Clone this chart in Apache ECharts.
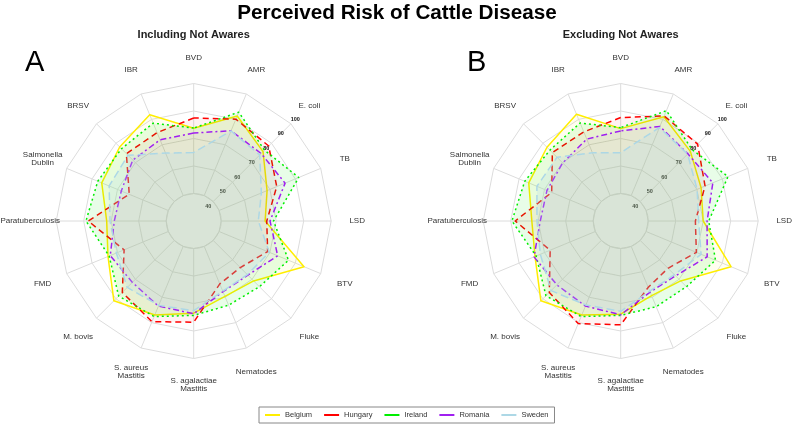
<!DOCTYPE html>
<html>
<head>
<meta charset="utf-8">
<script src="https://cdn.jsdelivr.net/npm/echarts@6/dist/echarts.min.js"></script>
<style>
  html, body { margin: 0; padding: 0; background: #fff; }
  #chart { width: 794px; height: 424px; }
</style>
</head>
<body>
<div id="chart"></div>
<script>
// categories, clockwise from the top
const diseases = ['BVD', 'AMR', 'E. coli', 'TB', 'LSD', 'BTV', 'Fluke', 'Nematodes',
  'S. agalactiae\nMastitis', 'S. aureus\nMastitis', 'M. bovis', 'FMD', 'Paratuberculosis',
  'Salmonella\nDublin', 'BRSV', 'IBR']

const countries = ['Belgium', 'Hungary', 'Ireland', 'Romania', 'Sweden']

// A: including not awares
const inclBelgium = [75.2, 85.4, 77.8, 68.7, 64.8, 88.2, 71.3, 69.8, 74.9, 79.6, 85.0, 75.2, 72.4, 78.5, 81.0, 86.0]
const inclHungary = [80.2, 83.7, 81.7, 73.8, 65.6, 69.0, 62.1, 63.2, 79.3, 83.1, 79.2, 66.7, 81.4, 64.0, 76.4, 76.6]
const inclIreland = [75.3, 87.4, 78.8, 85.4, 68.9, 80.0, 75.3, 74.4, 76.0, 80.4, 81.7, 74.6, 82.5, 80.6, 79.8, 81.6]
const inclRomania = [72.9, 77.6, 76.5, 78.2, 67.2, 74.3, 67.3, 67.3, 75.2, 74.9, 72.3, 74.0, 68.7, 68.2, 72.0, 72.8]
const inclSweden = [63.4, 77.5, 75.5, 65.7, 61.5, 69.9, 67.0, 67.0, 73.7, 74.5, 75.8, 70.8, 70.8, 74.6, 75.3, 65.8]

// B: excluding not awares
const exclBelgium = [75.0, 85.0, 78.0, 72.4, 70.2, 88.2, 71.3, 69.4, 75.4, 79.6, 85.0, 75.2, 73.3, 78.5, 80.8, 86.3]
const exclHungary = [80.4, 85.4, 83.0, 74.5, 66.4, 69.9, 62.6, 65.0, 80.6, 84.1, 79.2, 67.2, 81.4, 66.4, 77.1, 77.0]
const exclIreland = [75.5, 88.2, 79.2, 86.6, 72.9, 80.0, 75.3, 75.2, 76.0, 80.4, 81.5, 74.6, 83.0, 80.6, 78.8, 81.7]
const exclRomania = [73.9, 79.9, 76.3, 78.6, 72.1, 75.6, 67.8, 67.5, 75.7, 74.9, 74.0, 75.7, 69.2, 68.9, 70.0, 73.2]
const exclSweden = [63.3, 79.3, 76.1, 70.3, 68.0, 72.4, 67.0, 67.0, 74.0, 74.3, 78.0, 72.4, 70.8, 74.2, 73.9, 66.0]

const tickLabels = [40, 50, 60, 70, 80, 90, 100]

const scaleMin = 30
const ringMax = 97
const labelMax = 100

const font = 'Liberation Sans, Arial, sans-serif'
const radius = 137.5
const innerRadius = 27.5
const centers = [[193.7, 221], [620.7, 221]]
const gridColor = '#dcdcdc'

const colors = ['#ffee00', '#ff0000', '#00ee00', '#a020f0', '#add8e6']
const dashes = ['solid', [6, 4], [2, 3], [6, 3, 2, 3], [8, 4]]
const fillAlpha = [0.06, 0.05, 0.09, 0.04, 0.22]

// echarts draws radar axes counter-clockwise, so keep the first and reverse the rest
function ccw (arr) {
  return [arr[0]].concat(arr.slice(1).reverse())
}

function radarFor (center) {
  return {
    center: center,
    radius: radius,
    startAngle: 90,
    splitNumber: 5,
    shape: 'polygon',
    nameGap: 26,
    axisName: {
      color: '#333',
      fontSize: 8,
      fontFamily: font,
      align: 'center',
      verticalAlign: 'middle'
    },
    splitArea: { show: false },
    splitLine: { lineStyle: { color: gridColor, width: 1 } },
    // spokes come from the polar grid below so they start at the inner ring
    axisLine: { show: false },
    indicator: ccw(diseases).map(name => ({ name: name, min: scaleMin, max: ringMax }))
  }
}

function seriesFor (radarIndex, sets) {
  return {
    type: 'radar',
    radarIndex: radarIndex,
    symbol: 'none',
    data: sets.map((values, i) => ({
      name: countries[i],
      value: ccw(values),
      itemStyle: { color: colors[i] },
      lineStyle: { color: colors[i], width: 1.5, type: dashes[i] },
      areaStyle: { color: colors[i], opacity: fillAlpha[i] }
    }))
  }
}

// polar 0/1: spokes + inner circle, polar 2/3: 40..100 labels along the E. coli spoke
const polars = centers.map(c => ({ center: c, radius: [innerRadius, radius] }))
  .concat(centers.map(c => ({ center: c, radius: radius * (labelMax - scaleMin) / (ringMax - scaleMin) })))

const spokeAngle = centers.map((c, i) => ({
  polarIndex: i,
  type: 'value',
  startAngle: 90,
  min: 0,
  max: 360,
  interval: 360 / diseases.length,
  axisLine: { show: false },
  axisTick: { show: false },
  axisLabel: { show: false },
  splitLine: { lineStyle: { color: gridColor, width: 1 } }
}))

const spokeRadius = centers.map((c, i) => ({
  polarIndex: i,
  min: 0,
  max: 1,
  interval: 1,
  axisLine: { show: false },
  axisTick: { show: false },
  axisLabel: { show: false },
  // only the inner circle, the outer one is the polygon of the radar
  splitLine: { lineStyle: { color: [gridColor, 'rgba(0,0,0,0)'], width: 1 } }
}))

const labelAngle = centers.map((c, i) => ({
  polarIndex: i + 2,
  startAngle: 45,
  show: false,
  min: 0,
  max: 360
}))

const labelRadius = centers.map((c, i) => ({
  polarIndex: i + 2,
  min: scaleMin,
  max: labelMax,
  interval: 10,
  axisLine: { show: false },
  axisTick: { show: false },
  splitLine: { show: false },
  axisLabel: {
    margin: 0,
    align: 'center',
    verticalAlign: 'middle',
    fontSize: 5.5,
    fontWeight: 'bold',
    color: '#111',
    formatter: v => (tickLabels.indexOf(v) >= 0 ? String(v) : '')
  }
}))

const chart = echarts.init(document.getElementById('chart'))

const option = {
  animation: false,
  textStyle: { fontFamily: font },
  title: [
    {
      text: 'Perceived Risk of Cattle Disease',
      left: 'center',
      top: 3,
      padding: 0,
      textStyle: { fontSize: 20.7, fontWeight: 'bold', color: '#000', fontFamily: font }
    },
    {
      text: 'Including Not Awares',
      left: centers[0][0],
      textAlign: 'center',
      top: 29,
      padding: 0,
      textStyle: { fontSize: 11, fontWeight: 'bold', color: '#222', fontFamily: font }
    },
    {
      text: 'Excluding Not Awares',
      left: centers[1][0],
      textAlign: 'center',
      top: 29,
      padding: 0,
      textStyle: { fontSize: 11, fontWeight: 'bold', color: '#222', fontFamily: font }
    },
    {
      text: 'A',
      left: 25,
      top: 48,
      padding: 0,
      textStyle: { fontSize: 29, fontWeight: 'normal', color: '#000', fontFamily: font }
    },
    {
      text: 'B',
      left: 467,
      top: 48,
      padding: 0,
      textStyle: { fontSize: 29, fontWeight: 'normal', color: '#000', fontFamily: font }
    }
  ],
  legend: {
    data: countries,
    bottom: 1,
    left: 259,
    icon: 'rect',
    itemWidth: 15,
    itemHeight: 2,
    itemGap: 12,
    padding: [4, 6, 4, 6],
    borderColor: '#888',
    borderWidth: 1,
    selectedMode: false,
    textStyle: { fontSize: 7.5, color: '#333', fontFamily: font }
  },
  radar: centers.map(radarFor),
  polar: polars,
  angleAxis: spokeAngle.concat(labelAngle),
  radiusAxis: spokeRadius.concat(labelRadius),
  series: [
    seriesFor(0, [inclBelgium, inclHungary, inclIreland, inclRomania, inclSweden]),
    seriesFor(1, [exclBelgium, exclHungary, exclIreland, exclRomania, exclSweden])
  ]
}

chart.setOption(option)
</script>
</body>
</html>
